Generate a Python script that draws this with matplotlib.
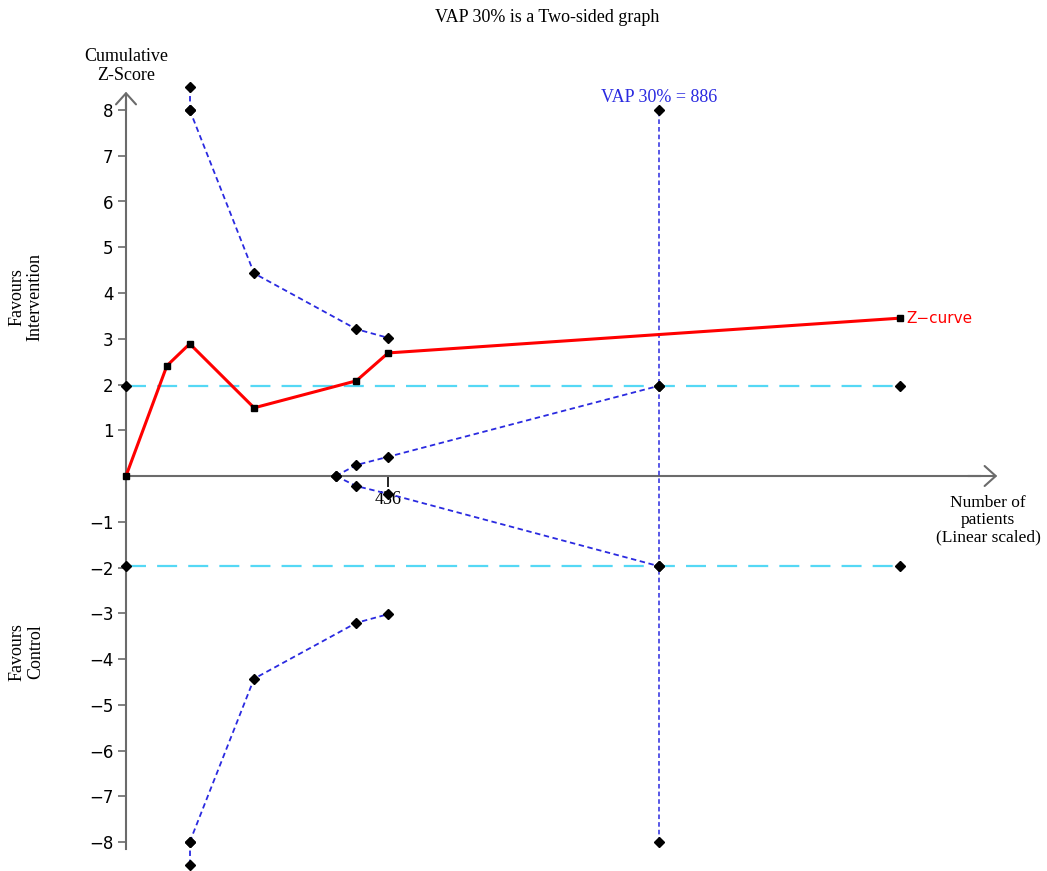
import matplotlib.pyplot as plt
import numpy as np

# cumulative z-curve
z_patients = [0, 68, 106, 213, 383, 436, 1287]
z_scores = [0, 2.41, 2.89, 1.49, 2.08, 2.69, 3.45]

# efficacy (monitoring) boundaries
bound_patients = [106, 213, 383, 436]
bound_upper = [8.0, 4.43, 3.21, 3.02]
bound_lower = [-8.0, -4.43, -3.21, -3.02]
offscale_patients = [106, 106]
offscale_upper = [8.5, 8.0]
offscale_lower = [-8.5, -8.0]

# futility boundaries
fut_patients = [349, 383, 436, 886]
fut_upper = [0, 0.24, 0.42, 1.97]
fut_lower = [0, -0.22, -0.39, -1.97]

# conventional significance lines
conv_patients = [0, 1287]
conv_z = 1.96

# required information size
ris = 886
ris_label = "VAP 30% = 886"

ytick_vals = [-8, -7, -6, -5, -4, -3, -2, -1, 1, 2, 3, 4, 5, 6, 7, 8]
xtick_vals = [436]

W, H = 1047, 871
fig = plt.figure(figsize=(W / 100, H / 100), dpi=100)
ax = fig.add_axes([0, 0, 1, 1])

# pixel scale: origin at (126, 476), 0.6013 px per patient, 45.75 px per z unit
sx, sy = 0.6013, 45.75
ax.set_xlim(-126 / sx, (W - 126) / sx)
ax.set_ylim((476 - H) / sy, 476 / sy)

serif = 'Liberation Serif'
sans = 'DejaVu Sans'
axis_col = '#6b6b6b'
blue = '#2a2ae0'
cyan = '#55d8f5'

for s in ['top', 'right']:
    ax.spines[s].set_visible(False)
ax.spines['left'].set_position(('data', 0))
ax.spines['bottom'].set_position(('data', 0))
ax.spines['left'].set_bounds(-8.15, 8.2)
ax.spines['bottom'].set_bounds(0, 1420)
for s in ['left', 'bottom']:
    ax.spines[s].set_color(axis_col)
    ax.spines[s].set_linewidth(1.5)

# arrow heads on the axes
arrow = dict(arrowstyle='->,head_length=0.8,head_width=0.72', color=axis_col, lw=1.5,
             shrinkA=0, shrinkB=0)
ax.annotate('', xy=(0, 8.4), xytext=(0, 8.0), arrowprops=arrow)
ax.annotate('', xy=(1449, 0), xytext=(1400, 0), arrowprops=arrow)

ax.set_yticks(ytick_vals)
ax.set_yticklabels([str(v).replace('-', '\u2212') for v in ytick_vals], fontfamily=sans, fontsize=12)
ax.set_xticks(xtick_vals)
ax.set_xticklabels([str(v) for v in xtick_vals], fontfamily=serif, fontsize=13)
ax.tick_params(axis='y', length=6, width=1.2, color=axis_col, pad=3)
ax.tick_params(axis='x', length=8, width=1.2, color='black', pad=3)

# conventional boundaries
for z in [conv_z, -conv_z]:
    ax.plot(conv_patients, [z, z], color=cyan, lw=1.6, dashes=(9, 5), zorder=2)
    ax.plot(conv_patients, [z, z], ls='none', marker='D', ms=5, color='black', zorder=5)

# required information size line
ax.plot([ris, ris, ris, ris], [-8, -conv_z, conv_z, 8], color=blue, lw=1.1, dashes=(3, 2),
        marker='D', ms=5, mfc='black', mec='black', zorder=3)
ax.text(ris, 8.28, ris_label, color=blue, fontfamily=serif, fontsize=13, ha='center', va='center')

# efficacy and futility boundaries
for xs, ys in [(bound_patients, bound_upper), (bound_patients, bound_lower),
               (offscale_patients, offscale_upper), (offscale_patients, offscale_lower),
               (fut_patients, fut_upper), (fut_patients, fut_lower)]:
    ax.plot(xs, ys, color=blue, lw=1.3, dashes=(3, 2), marker='D', ms=5,
            mfc='black', mec='black', zorder=4)

# z-curve
ax.plot(z_patients, z_scores, color='red', lw=2.2, marker='s', ms=5,
        mfc='black', mec='black', zorder=6)
ax.text(z_patients[-1] + 11, z_scores[-1], 'Z\u2212curve', color='red', fontfamily=sans,
        fontsize=11, ha='left', va='center')

# labels
fig.text(547 / W, 1 - 18 / H, 'VAP 30% is a Two-sided graph', fontfamily=serif, fontsize=13,
         ha='center', va='center')
fig.text(126 / W, 1 - 66 / H, 'Cumulative\nZ-Score', fontfamily=serif, fontsize=13,
         ha='center', va='center', linespacing=1.12)
fig.text(26 / W, 1 - 297 / H, 'Favours\nIntervention', fontfamily=serif, fontsize=13,
         ha='center', va='center', rotation=90, linespacing=1.12)
fig.text(26 / W, 1 - 652 / H, 'Favours\nControl', fontfamily=serif, fontsize=13,
         ha='center', va='center', rotation=90, linespacing=1.12)
fig.text(988 / W, 1 - 520 / H, 'Number of\npatients\n(Linear scaled)', fontfamily=serif,
         fontsize=12.5, ha='center', va='center', linespacing=1.12)

fig.savefig('out.png', dpi=100)
